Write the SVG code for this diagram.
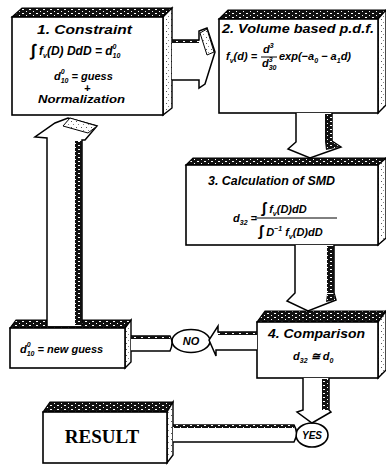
<svg xmlns="http://www.w3.org/2000/svg" width="386" height="468" viewBox="0 0 386 468">
<defs>
<pattern id="spk" width="7" height="4" patternUnits="userSpaceOnUse">
<rect width="7" height="4" fill="#111"/>
<rect x="1" y="1" width="2" height="1" fill="#fff"/>
<rect x="5" y="3" width="1" height="1" fill="#fff"/>
</pattern>
<pattern id="lt" width="5" height="6" patternUnits="userSpaceOnUse">
<rect width="5" height="6" fill="#fff"/>
<rect x="1" y="1" width="1" height="1" fill="#555"/>
<rect x="3" y="4" width="1" height="1" fill="#888"/>
</pattern>
</defs>
<style>
.fr{fill:#fff;stroke:#000;stroke-width:1.6}
.tp{fill:url(#spk);stroke:#000;stroke-width:1.2}
.sd{fill:url(#lt);stroke:#000;stroke-width:1.4}
.sh{fill:#fff;stroke:#000;stroke-width:1.5}
.bd{fill:url(#spk);stroke:none}
.t{font-family:"Liberation Sans",Arial,sans-serif;font-weight:bold;font-style:italic;fill:#000}
.h{font-size:13px}
.m{font-size:11px}
.s{font-size:7px}
.r{font-family:"Liberation Serif","Times New Roman",serif;font-weight:bold;font-size:19px;fill:#000}
</style>
<g id="n1">
<polygon class="tp" points="12,17 22,8 172,8 163,17"/>
<polygon class="sd" points="163,17 172,8 172,108 163,115"/>
<rect class="fr" x="12" y="17" width="151" height="98"/>
<text class="t h" x="37" y="34" textLength="95" lengthAdjust="spacingAndGlyphs">1. Constraint</text>
<text class="t" font-size="12" x="31" y="55"><tspan font-size="17" dy="1">∫</tspan><tspan dy="-1"> f</tspan><tspan class="s" dy="3">v</tspan><tspan dy="-3">(D) DdD = d</tspan><tspan class="s" dy="-6">0</tspan><tspan class="s" dx="-4" dy="9">10</tspan></text>
<text class="t m" x="54" y="80">d<tspan class="s" dy="-6">0</tspan><tspan class="s" dx="-4" dy="9">10</tspan><tspan dy="-3"> = guess</tspan></text>
<text class="t m" x="84" y="92">+</text>
<text class="t m" x="38" y="103" textLength="87" lengthAdjust="spacingAndGlyphs">Normalization</text>
</g>
<g id="n2">
<polygon class="tp" points="219,19 228,10 386,10 378,19"/>
<polygon class="sd" points="378,19 386,10 386,105 378,113"/>
<rect class="fr" x="219" y="19" width="159" height="94"/>
<text class="t h" x="222" y="33" textLength="152" lengthAdjust="spacingAndGlyphs">2. Volume based p.d.f.</text>
<text class="t m" x="226" y="60">f<tspan class="s" dy="3">v</tspan><tspan dy="-3">(d) =</tspan></text>
<text class="t m" x="263" y="53">d<tspan class="s" dy="-5">3</tspan></text>
<line x1="261" y1="57" x2="277" y2="57" stroke="#000" stroke-width="1"/>
<text class="t m" x="262" y="67">d<tspan class="s" dy="-5">3</tspan><tspan class="s" dx="-4" dy="8">30</tspan></text>
<text class="t m" x="279" y="60">exp(−a<tspan class="s" dy="3">0</tspan><tspan dy="-3"> − a</tspan><tspan class="s" dy="3">1</tspan><tspan dy="-3">d)</tspan></text>
</g>
<g id="n3">
<polygon class="tp" points="186,165 193,158 386,158 378,165"/>
<polygon class="sd" points="378,165 386,158 386,238 378,245"/>
<rect class="fr" x="186" y="165" width="192" height="80"/>
<text class="t h" x="208" y="185" textLength="127" lengthAdjust="spacingAndGlyphs">3. Calculation of SMD</text>
<text class="t m" x="233" y="222">d<tspan class="s" dy="3">32</tspan><tspan dy="-3"> =</tspan></text>
<text class="t m" x="262" y="213"><tspan font-size="15">∫</tspan> f<tspan class="s" dy="3">v</tspan><tspan dy="-3">(D)dD</tspan></text>
<line x1="255" y1="218" x2="337" y2="218" stroke="#000" stroke-width="1"/>
<text class="t m" x="259" y="236"><tspan font-size="15">∫</tspan> D<tspan class="s" dy="-5">−1</tspan><tspan dy="5"> f</tspan><tspan class="s" dy="3">v</tspan><tspan dy="-3">(D)dD</tspan></text>
</g>
<g id="n4">
<polygon class="tp" points="257,322 265,311 386,311 378,322"/>
<polygon class="sd" points="378,322 386,311 386,370 378,378"/>
<rect class="fr" x="257" y="322" width="121" height="56"/>
<text class="t h" x="268" y="338" textLength="97" lengthAdjust="spacingAndGlyphs">4. Comparison</text>
<text class="t m" x="293" y="360">d<tspan class="s" dy="3">32</tspan><tspan dy="-3"> ≅ d</tspan><tspan class="s" dy="3">0</tspan></text>
</g>
<g id="n5">
<polygon class="tp" points="10,328 16,320 131,320 125,328"/>
<polygon class="sd" points="125,328 131,320 131,362 125,368"/>
<rect class="fr" x="10" y="328" width="115" height="40"/>
<text class="t m" x="20" y="353">d<tspan class="s" dy="-6">0</tspan><tspan class="s" dx="-4" dy="9">10</tspan><tspan dy="-3"> = new guess</tspan></text>
</g>
<g id="n6">
<polygon class="tp" points="43,412 50,402 173,402 167,412"/>
<polygon class="sd" points="167,412 173,402 173,455 167,463"/>
<rect class="fr" x="43" y="412" width="124" height="51"/>
<text class="r" x="102" y="443" text-anchor="middle">RESULT</text>
</g>
<g id="no">
<ellipse cx="191" cy="341" rx="19" ry="11.5" fill="#fff" stroke="#000" stroke-width="1.6"/>
<text class="t m" x="191" y="345" text-anchor="middle">NO</text>
</g>
<g id="yes">
<ellipse cx="312" cy="435" rx="16" ry="12" fill="#fff" stroke="#000" stroke-width="1.6"/>
<text class="t" font-size="10" x="312" y="439" text-anchor="middle">YES</text>
</g>
<g id="connectors">
<path class="sh" d="M172,40 H199 V31 L207,28 L215,52 L205,84 L199,88 V80 H172"/>
<rect class="bd" x="172" y="40" width="27" height="3"/>
<polygon fill="url(#lt)" stroke="#000" stroke-width="1" points="200,33 207,29 214,52 207,55"/>
<path class="sh" d="M296,113 V142 L288,149 L310,158 L341,147 L332,141 V113"/>
<rect class="bd" x="325" y="114" width="7" height="28"/>
<polygon class="bd" points="326,150 340,147 332,142 325,142"/>
<path class="sh" d="M295,245 V293 L287,301 L308,311 L336,300 L334,293 V245"/>
<rect class="bd" x="327" y="246" width="7" height="47"/>
<polygon class="bd" points="326,302 335,300 334,294 327,294"/>
<path class="sh" d="M303,378 V410 L297,412 L312,423 L331,412 L329,410 V378"/>
<rect class="bd" x="322" y="379" width="7" height="31"/>
<path class="sh" d="M257,332 H218 V326 L209,340 L216,356 V350 H257"/>
<rect class="bd" x="218" y="332" width="39" height="3"/>
<path class="sh" d="M131,336 H170 Q174,343 170,351 H131"/>
<rect class="bd" x="131" y="336" width="39" height="3"/>
<path class="sh" d="M47,326 V138 L35,137 L55,123 L68,118 L97,126 L85,140 L82,140 V326"/>
<rect class="bd" x="75" y="141" width="7" height="184"/>
<polygon fill="url(#lt)" stroke="#000" stroke-width="1" points="63,126 70,118 97,126 88,133"/>
<path class="sh" d="M173,425 H294 Q299,433 294,442 H173"/>
<rect class="bd" x="173" y="425" width="121" height="3"/>
</g>
</svg>
